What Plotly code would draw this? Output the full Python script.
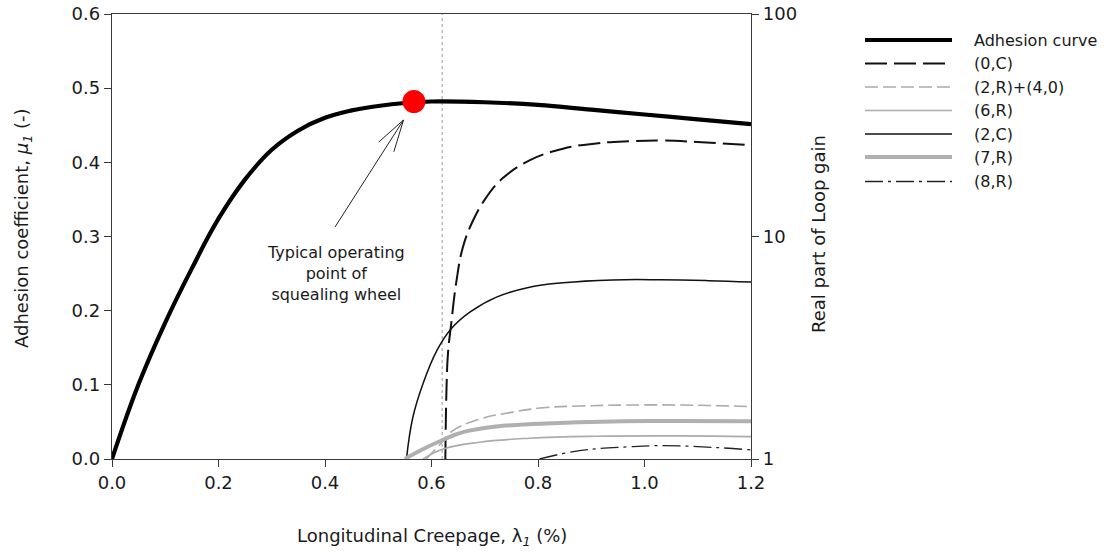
import math
import plotly.graph_objects as go

# ---- data -------------------------------------------------------------
# adhesion curve (left axis, mu)
adh_x = [0.0, 0.05, 0.10, 0.15, 0.20, 0.25, 0.30, 0.35, 0.40, 0.45, 0.50, 0.55,
         0.60, 0.70, 0.80, 0.90, 1.00, 1.10, 1.20]
adh_y = [0.0, 0.101, 0.184, 0.257, 0.324, 0.377, 0.417, 0.443, 0.460, 0.470, 0.476, 0.480,
         0.482, 0.481, 0.4775, 0.471, 0.4645, 0.458, 0.4515]

# loop-gain real parts (right axis, log)
c0_x = [0.626, 0.628, 0.631, 0.637, 0.647, 0.659, 0.678, 0.703, 0.734, 0.784, 0.847, 0.909, 0.972, 1.03, 1.10, 1.20]
c0_y = [1.0, 2.0, 3.0, 4.05, 6.34, 8.96, 11.8, 15.0, 18.3, 22.0, 24.8, 26.2, 26.8, 27.0, 26.6, 25.7]

r24_x = [0.590, 0.620, 0.640, 0.690, 0.750, 0.810, 0.880, 1.00, 1.12, 1.20]
r24_y = [1.0, 1.19, 1.34, 1.51, 1.62, 1.70, 1.73, 1.75, 1.74, 1.72]

r6_x = [0.584, 0.622, 0.690, 0.784, 0.909, 1.066, 1.20]
r6_y = [1.0, 1.11, 1.19, 1.24, 1.265, 1.27, 1.26]

c2_x = [0.553, 0.565, 0.584, 0.610, 0.637, 0.672, 0.722, 0.784, 0.847, 0.94, 1.03, 1.12, 1.20]
c2_y = [1.0, 1.54, 2.18, 3.07, 3.85, 4.57, 5.34, 5.92, 6.20, 6.38, 6.39, 6.33, 6.24]

r7_x = [0.550, 0.578, 0.622, 0.659, 0.722, 0.816, 0.940, 1.066, 1.20]
r7_y = [1.0, 1.09, 1.22, 1.32, 1.40, 1.445, 1.476, 1.48, 1.477]

r8_x = [0.803, 0.878, 0.972, 1.034, 1.128, 1.20]
r8_y = [1.0, 1.09, 1.135, 1.148, 1.128, 1.098]

op_x = [0.567]          # typical operating point
op_y = [0.482]
ref_creepage = 0.62     # dotted reference line

x_ticks = [0.0, 0.2, 0.4, 0.6, 0.8, 1.0, 1.2]
y_ticks = [0.0, 0.1, 0.2, 0.3, 0.4, 0.5, 0.6]
y2_ticks = [1, 10, 100]

# ---- styling ------------------------------------------------------------
FONT = "DejaVu Sans"
TXT = "#1a1a1a"
AX = "#3a3a3a"
GREY = "#ababab"

W, H = 1105, 553
L, R, T, B = 112, 354, 14, 94
PW, PH = W - L - R, H - T - B

series = [
    ("Adhesion curve", adh_x, adh_y, "y", dict(color="black", width=4.2)),
    ("(0,C)", c0_x, c0_y, "y2", dict(color="#111111", width=2, dash="22px,7px")),
    ("(2,R)+(4,0)", r24_x, r24_y, "y2", dict(color=GREY, width=1.6, dash="13px,5px")),
    ("(6,R)", r6_x, r6_y, "y2", dict(color=GREY, width=1.6)),
    ("(2,C)", c2_x, c2_y, "y2", dict(color="#111111", width=1.5)),
    ("(7,R)", r7_x, r7_y, "y2", dict(color="#b0b0b0", width=4)),
    ("(8,R)", r8_x, r8_y, "y2", dict(color="#222222", width=1.3, dash="18px,5px,3px,5px")),
]

fig = go.Figure()
for name, xs, ys, yax, line in series:
    fig.add_trace(go.Scatter(x=xs, y=ys, yaxis=yax, mode="lines", name=name,
                             line=dict(shape="spline", smoothing=1.2, **line),
                             showlegend=False, hoverinfo="skip"))

fig.add_trace(go.Scatter(x=op_x, y=op_y, mode="markers", name="operating point",
                         marker=dict(color="#ff0000", size=23, line=dict(width=0)),
                         showlegend=False))


def px_to_x(px):
    return (px - L) / PW * 1.2


def py_to_y(py):
    return (T + PH - py) / PH * 0.6


def paper_x(px):
    return (px - L) / PW


def paper_y(py):
    return (T + PH - py) / PH


shapes = []
# dotted vertical reference line
shapes.append(dict(type="line", xref="x", yref="paper", x0=ref_creepage, x1=ref_creepage,
                   y0=0, y1=1, line=dict(color="#9a9a9a", width=1, dash="dot"), layer="below"))

# annotation arrow (open V head)
tip = (403.5, 120.0)
tail = (335.0, 227.0)
dx, dy = tail[0] - tip[0], tail[1] - tip[1]
n = math.hypot(dx, dy)
ux, uy = dx / n, dy / n
nx, ny = -uy, ux
b1 = (tip[0] + 32 * ux + 9 * nx, tip[1] + 32 * uy + 9 * ny)
b2 = (tip[0] + 32 * ux - 9 * nx, tip[1] + 32 * uy - 9 * ny)
shapes.append(dict(type="line", xref="x", yref="y", x0=px_to_x(tail[0]), y0=py_to_y(tail[1]),
                   x1=px_to_x(tip[0]), y1=py_to_y(tip[1]), line=dict(color="#222", width=1)))
shapes.append(dict(type="path", xref="x", yref="y",
                   path=f"M{px_to_x(b1[0])},{py_to_y(b1[1])} L{px_to_x(tip[0])},{py_to_y(tip[1])} "
                        f"L{px_to_x(b2[0])},{py_to_y(b2[1])}",
                   line=dict(color="#222", width=1)))

title_font = dict(family=FONT, size=18, color=TXT)
annotations = [
    dict(xref="x", yref="y", x=px_to_x(336), y=py_to_y(273),
         text="Typical operating<br>point of<br>squealing wheel",
         showarrow=False, align="center", xanchor="center", yanchor="middle",
         font=dict(family=FONT, size=16, color=TXT)),
    # axis titles
    dict(xref="paper", yref="paper", x=paper_x(432), y=paper_y(537),
         text="Longitudinal Creepage, λ<sub><i>1</i></sub> (%)",
         showarrow=False, xanchor="center", yanchor="middle", font=title_font),
    dict(xref="paper", yref="paper", x=paper_x(23), y=paper_y(228),
         text="Adhesion coefficient, <i>μ</i><sub><i>1</i></sub> (-)", textangle=-90,
         showarrow=False, xanchor="center", yanchor="middle", font=title_font),
    dict(xref="paper", yref="paper", x=paper_x(818), y=paper_y(234),
         text="Real part of Loop gain", textangle=-90,
         showarrow=False, xanchor="center", yanchor="middle", font=title_font),
]

# legend drawn beside the plot
rows = [40, 63.5, 87, 110.5, 134, 157, 181.5]
for (name, _, _, _, line), ry in zip(series, rows):
    shapes.append(dict(type="line", xref="paper", yref="paper",
                       x0=paper_x(865), x1=paper_x(952), y0=paper_y(ry), y1=paper_y(ry),
                       line=line))
    annotations.append(dict(xref="paper", yref="paper", x=paper_x(972), y=paper_y(ry),
                            text=name, showarrow=False, xanchor="left", yanchor="middle",
                            font=dict(family=FONT, size=16, color=TXT)))

axis_common = dict(showgrid=False, zeroline=False, showline=True, linecolor=AX, linewidth=1.3,
                   ticks="outside", ticklen=7, tickwidth=1.3, tickcolor=AX, automargin=False,
                   tickfont=dict(family=FONT, size=18, color=TXT))

fig.update_layout(
    width=W, height=H,
    margin=dict(l=L, r=R, t=T, b=B, autoexpand=False),
    paper_bgcolor="white", plot_bgcolor="white",
    showlegend=False,
    xaxis=dict(range=[0, 1.2], tickvals=x_ticks, ticktext=[f"{v:.1f}" for v in x_ticks],
               mirror=True, **axis_common),
    yaxis=dict(range=[0, 0.6], tickvals=y_ticks, ticktext=[f"{v:.1f}" for v in y_ticks],
               **axis_common),
    yaxis2=dict(type="log", range=[0, 2], overlaying="y", side="right",
                tickvals=y2_ticks, ticktext=[str(v) for v in y2_ticks], **axis_common),
    shapes=shapes,
    annotations=annotations,
)

fig.write_html("out.html")
